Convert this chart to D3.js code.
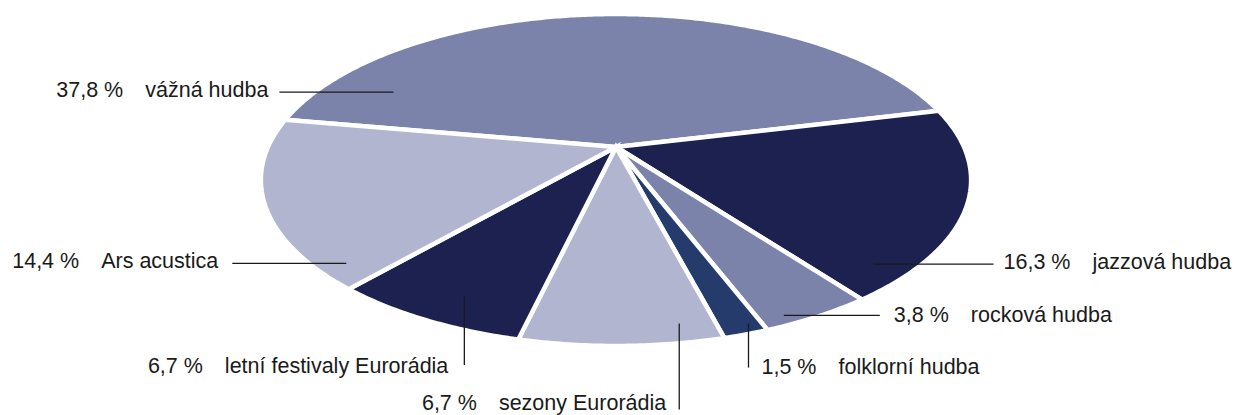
<!DOCTYPE html>
<html>
<head>
<meta charset="utf-8">
<script src="https://cdn.jsdelivr.net/npm/d3@7"></script>
<style>
  html, body { margin: 0; padding: 0; background: #ffffff; }
  svg { display: block; }
  text { font-family: "Liberation Sans", Arial, sans-serif; font-size: 21.5px; fill: #1a1a1a; }
</style>
</head>
<body>
<svg id="chart" width="1235" height="415"></svg>
<script>
// ---- data ----
const categories = ["vážná hudba", "jazzová hudba", "rocková hudba", "folklorní hudba",
                    "sezony Eurorádia", "letní festivaly Eurorádia", "Ars acustica"];
const values = [37.8, 16.3, 3.8, 1.5, 6.7, 6.7, 14.4];
const colors = ["#7b83aa", "#1c2150", "#7b83aa", "#243b6c", "#b1b5cf", "#1c2150", "#b1b5cf"];

// ---- label layout (fraction through slice, radius fraction, leader direction/length, text offset) ----
const labelLayout = [
  { f: 0.116, t: 0.78, dir: "left",  len: 114, tx: -11, ty: 5, anchor: "end" },
  { f: 0.87,  t: 0.91, dir: "right", len: 120, tx: 10,  ty: 5, anchor: "start" },
  { f: 0.76,  t: 0.96, dir: "right", len: 96,  tx: 14,  ty: 7, anchor: "start" },
  { f: 0.29,  t: 0.96, dir: "down",  len: 44,  tx: 13,  ty: 6, anchor: "start" },
  { f: 0.19,  t: 0.92, dir: "down",  len: 86,  tx: -13, ty: 0, anchor: "end" },
  { f: 0.43,  t: 0.87, dir: "down",  len: 69,  tx: -16, ty: 8, anchor: "end" },
  { f: 0.10,  t: 0.93, dir: "left",  len: 114, tx: -14, ty: 5, anchor: "end" }
];

// ---- geometry: perspective-projected pie ----
const cx = 616, cy = 147;      // projected pie centre
const A = 348, B = 159.4, k = 0.1988;
const startDeg = -79.8;

function project(angle, t) {
  const u = t * Math.sin(angle), v = t * Math.cos(angle);
  const w = 1 + k * v;
  return [cx + A * u / w, cy - B * v / w];
}

const svg = d3.select("#chart");
const start = startDeg * Math.PI / 180;
const pie = d3.pie().sort(null).value(d => d).startAngle(start).endAngle(start + 2 * Math.PI);
const arcs = pie(values);

const line = d3.line();
function slicePath(d) {
  const pts = [[cx, cy]];
  const n = Math.max(4, Math.ceil((d.endAngle - d.startAngle) / 0.01));
  for (let i = 0; i <= n; i++) {
    const a = d.startAngle + (d.endAngle - d.startAngle) * i / n;
    pts.push(project(a, 1));
  }
  return line(pts) + "Z";
}

svg.append("g").selectAll("path")
  .data(arcs)
  .join("path")
  .attr("d", slicePath)
  .attr("fill", (d, i) => colors[i])
  .attr("stroke", "#ffffff")
  .attr("stroke-width", 4.5)
  .attr("stroke-linejoin", "miter");

// ---- labels ----
const fmt = v => v.toFixed(1).replace(".", ",") + " %";
const lg = svg.append("g");
arcs.forEach((d, i) => {
  const L = labelLayout[i];
  const a = d.startAngle + (d.endAngle - d.startAngle) * L.f;
  const p = project(a, L.t);
  let e;
  if (L.dir === "left") e = [p[0] - L.len, p[1]];
  else if (L.dir === "right") e = [p[0] + L.len, p[1]];
  else e = [p[0], p[1] + L.len];
  lg.append("line")
    .attr("x1", p[0]).attr("y1", p[1])
    .attr("x2", e[0]).attr("y2", e[1])
    .attr("stroke", "#1a1a1a").attr("stroke-width", 1.3);
  const txt = lg.append("text")
    .attr("x", e[0] + L.tx).attr("y", e[1] + L.ty)
    .attr("text-anchor", L.anchor);
  txt.append("tspan").text(fmt(values[i]));
  txt.append("tspan").attr("dx", 22).text(categories[i]);
});
</script>
</body>
</html>
